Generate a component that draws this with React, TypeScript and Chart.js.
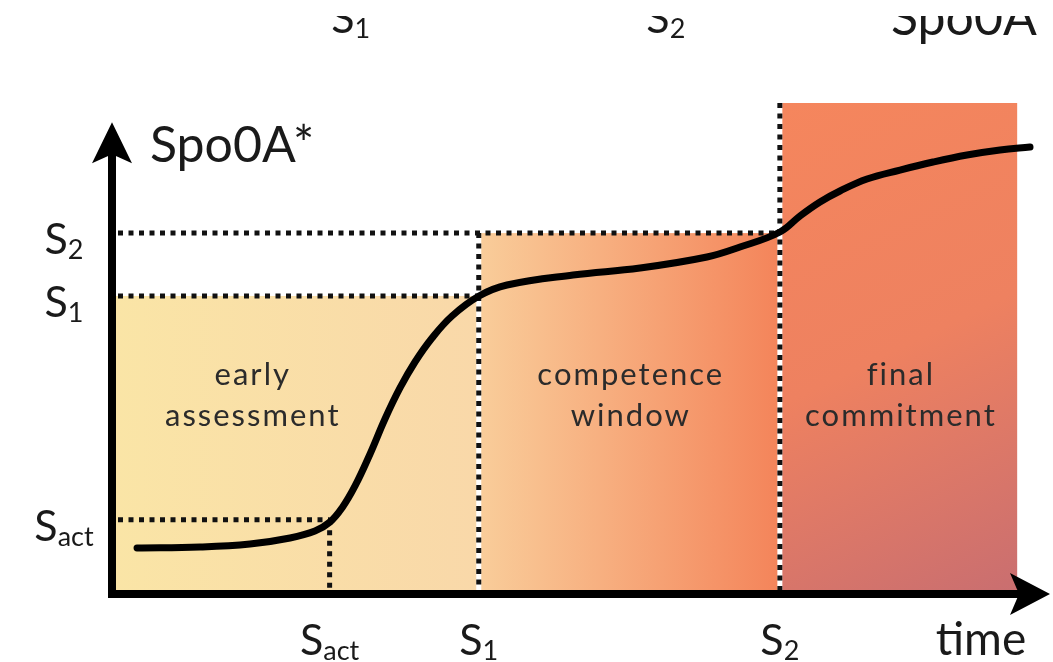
import React, { useEffect, useRef } from "react";
import { Chart, registerables } from "chart.js";

Chart.register(...registerables);

// Curve: Spo0A* level over time (arbitrary units 0..100)
const timePoints = [2.67, 9.38, 14.71, 18.98, 21.64, 23.24, 24.52, 25.91, 27.51, 29.1, 30.7, 32.3, 34.12, 36.25, 39.13, 42.11, 49.15, 56.29, 63.43, 66.95, 71.22, 73.35, 75.48, 77.61, 80.49, 84.01, 87.53, 91.15, 94.67, 97.87];
const spo0aLevels = [9.37, 9.57, 10.18, 11.41, 12.83, 14.66, 17.52, 22.0, 28.51, 35.64, 41.96, 47.25, 52.14, 56.62, 60.69, 62.93, 64.97, 66.4, 68.64, 70.67, 73.73, 76.99, 79.84, 82.08, 84.52, 86.35, 87.98, 89.41, 90.43, 91.04];

// Thresholds
const thresholdSubs = ["act", "1", "2"];
const thresholdTimes = [23.2, 39.1, 71.2];
const thresholdLevels = [15.1, 60.7, 73.5];

// Phases
const phaseNames = [["early", "assessment"], ["competence", "window"], ["final", "commitment"]];
const phaseStarts = [0, 39.1, 71.2];
const phaseEnds = [39.1, 71.2, 96.5];
const phaseTops = [60.7, 73.5, 100];
const phaseLabelTimes = [14.9, 55.2, 84.0];
const phaseLabelLevel = 42.6;

const axisTitle = "Spo0A*";
const timeTitle = "time";
const topFragments = [["S", "1"], ["S", "2"]];
const FONT = "Lato, 'Open Sans', sans-serif";

const phaseColors = [
  ["#FAE5A6", "#F9D8A9"],
  ["#F9CD9A", "#F4845A"],
  ["#F5865D", "#EE8160", "#C96E70"],
];

function drawSub(ctx: CanvasRenderingContext2D, main: string, sub: string, cx: number, base: number, size: number, subSize: number, color = "#1a1a1a") {
  ctx.font = `${size}px ${FONT}`;
  const w1 = ctx.measureText(main).width;
  ctx.font = `${subSize}px ${FONT}`;
  const w2 = ctx.measureText(sub).width;
  const left = cx - (w1 + w2) / 2;
  ctx.fillStyle = color;
  ctx.textAlign = "left";
  ctx.textBaseline = "alphabetic";
  ctx.font = `${size}px ${FONT}`;
  ctx.fillText(main, left, base);
  ctx.font = `${subSize}px ${FONT}`;
  ctx.fillText(sub, left + w1, base + 5);
}

const diagramPlugin = {
  id: "diagram",
  beforeDatasetsDraw(chart: any) {
    const { ctx, scales } = chart;
    const x = scales.x, y = scales.y;
    ctx.save();
    // phase regions
    phaseStarts.forEach((s, i) => {
      const x0 = x.getPixelForValue(s), x1 = x.getPixelForValue(phaseEnds[i]);
      const y0 = y.getPixelForValue(phaseTops[i]), y1 = y.getPixelForValue(0);
      const g = i === 2 ? ctx.createLinearGradient(x0, y0, x1, y1) : ctx.createLinearGradient(x0, 0, x1, 0);
      const stops = phaseColors[i];
      stops.forEach((c, k) => g.addColorStop(k / (stops.length - 1), c));
      ctx.fillStyle = g;
      ctx.fillRect(x0, y0, x1 - x0, y1 - y0);
    });
    // dotted guides
    const axX = x.getPixelForValue(0) + 6;
    const axY = y.getPixelForValue(0);
    ctx.lineWidth = 5;
    ctx.lineCap = "butt";
    thresholdTimes.forEach((t, i) => {
      const px = x.getPixelForValue(t);
      const py = y.getPixelForValue(thresholdLevels[i]);
      const topV = i === 0 ? thresholdLevels[0] : phaseTops[i];
      const vTop = y.getPixelForValue(topV);
      if (i > 0) {
        ctx.setLineDash([]);
        ctx.strokeStyle = "#ffffff";
        ctx.beginPath();
        ctx.moveTo(px, vTop);
        ctx.lineTo(px, axY);
        ctx.stroke();
      }
      ctx.setLineDash([5, 5.5]);
      ctx.strokeStyle = "#111111";
      ctx.beginPath();
      ctx.moveTo(px, vTop);
      ctx.lineTo(px, axY);
      ctx.stroke();
      ctx.beginPath();
      ctx.moveTo(axX, py);
      ctx.lineTo(px, py);
      ctx.stroke();
    });
    ctx.restore();
  },
  afterDatasetsDraw(chart: any) {
    const { ctx, scales, chartArea } = chart;
    const x = scales.x, y = scales.y;
    ctx.save();
    const ox = x.getPixelForValue(0);
    const oy = y.getPixelForValue(0);
    const yTip = y.getPixelForValue(96.1);
    const xTip = chartArea.right;
    ctx.strokeStyle = "#000";
    ctx.fillStyle = "#000";
    ctx.lineWidth = 8;
    ctx.setLineDash([]);
    ctx.beginPath();
    ctx.moveTo(ox, oy + 4);
    ctx.lineTo(ox, yTip + 20);
    ctx.stroke();
    ctx.beginPath();
    ctx.moveTo(ox - 4, oy);
    ctx.lineTo(xTip - 20, oy);
    ctx.stroke();
    // arrowheads
    ctx.beginPath();
    ctx.moveTo(ox, yTip);
    ctx.lineTo(ox + 20, yTip + 41);
    ctx.lineTo(ox, yTip + 32);
    ctx.lineTo(ox - 20, yTip + 41);
    ctx.closePath();
    ctx.fill();
    ctx.beginPath();
    ctx.moveTo(xTip, oy);
    ctx.lineTo(xTip - 40, oy - 21);
    ctx.lineTo(xTip - 31, oy);
    ctx.lineTo(xTip - 40, oy + 21);
    ctx.closePath();
    ctx.fill();

    // axis titles
    ctx.fillStyle = "#1a1a1a";
    ctx.textAlign = "left";
    ctx.textBaseline = "alphabetic";
    ctx.font = `50px ${FONT}`;
    ctx.fillText(axisTitle, ox + 38, 162);
    ctx.textAlign = "center";
    ctx.font = `46px ${FONT}`;
    ctx.fillText(timeTitle, 981, oy + 61);

    // tick labels
    thresholdTimes.forEach((t, i) => {
      drawSub(ctx, "S", thresholdSubs[i], x.getPixelForValue(t), oy + 61, 43, 27);
      drawSub(ctx, "S", thresholdSubs[i], 64, y.getPixelForValue(thresholdLevels[i]) + 21, 43, 27);
    });

    // clipped repeat at the top of the picture
    ctx.save();
    ctx.beginPath();
    ctx.rect(0, 16, chart.width, 60);
    ctx.clip();
    drawSub(ctx, "S", topFragments[0][1], x.getPixelForValue(thresholdTimes[1]) - 128, 33, 43, 27);
    drawSub(ctx, "S", topFragments[1][1], x.getPixelForValue(thresholdTimes[2]) - 114, 33, 43, 27);
    ctx.fillStyle = "#1a1a1a";
    ctx.textAlign = "left";
    ctx.font = `50px ${FONT}`;
    ctx.fillText(axisTitle, 891, 35);
    ctx.restore();

    // phase labels
    ctx.fillStyle = "#2b2b2b";
    ctx.textAlign = "center";
    ctx.font = `31px ${FONT}`;
    (ctx as any).letterSpacing = "2px";
    phaseNames.forEach((lines, i) => {
      const cx = x.getPixelForValue(phaseLabelTimes[i]) + 1;
      const by = y.getPixelForValue(phaseLabelLevel);
      lines.forEach((ln, j) => ctx.fillText(ln, cx, by + j * 41));
    });
    (ctx as any).letterSpacing = "0px";
    ctx.restore();
  },
};

export default function App() {
  const ref = useRef<HTMLCanvasElement | null>(null);
  useEffect(() => {
    document.body.style.margin = "0";
    const canvas = ref.current;
    if (!canvas) return;
    const chart = new Chart(canvas, {
      type: "line",
      data: {
        datasets: [
          {
            data: timePoints.map((t, i) => ({ x: t, y: spo0aLevels[i] })),
            borderColor: "#000000",
            borderWidth: 7,
            pointRadius: 0,
            tension: 0.4,
            borderCapStyle: "round",
            fill: false,
          },
        ],
      },
      options: {
        animation: false,
        responsive: false,
        devicePixelRatio: 1,
        layout: { padding: { left: 112, right: 3, top: 103, bottom: 68 } },
        scales: {
          x: { type: "linear", min: 0, max: 100, display: false },
          y: { type: "linear", min: 0, max: 100, display: false },
        },
        plugins: { legend: { display: false }, tooltip: { enabled: false } },
      },
      plugins: [diagramPlugin],
    } as any);
    return () => chart.destroy();
  }, []);
  return (
    <div style={{ width: 1053, height: 662, background: "#fff" }}>
      <canvas ref={ref} width={1053} height={662} style={{ display: "block" }} />
    </div>
  );
}
